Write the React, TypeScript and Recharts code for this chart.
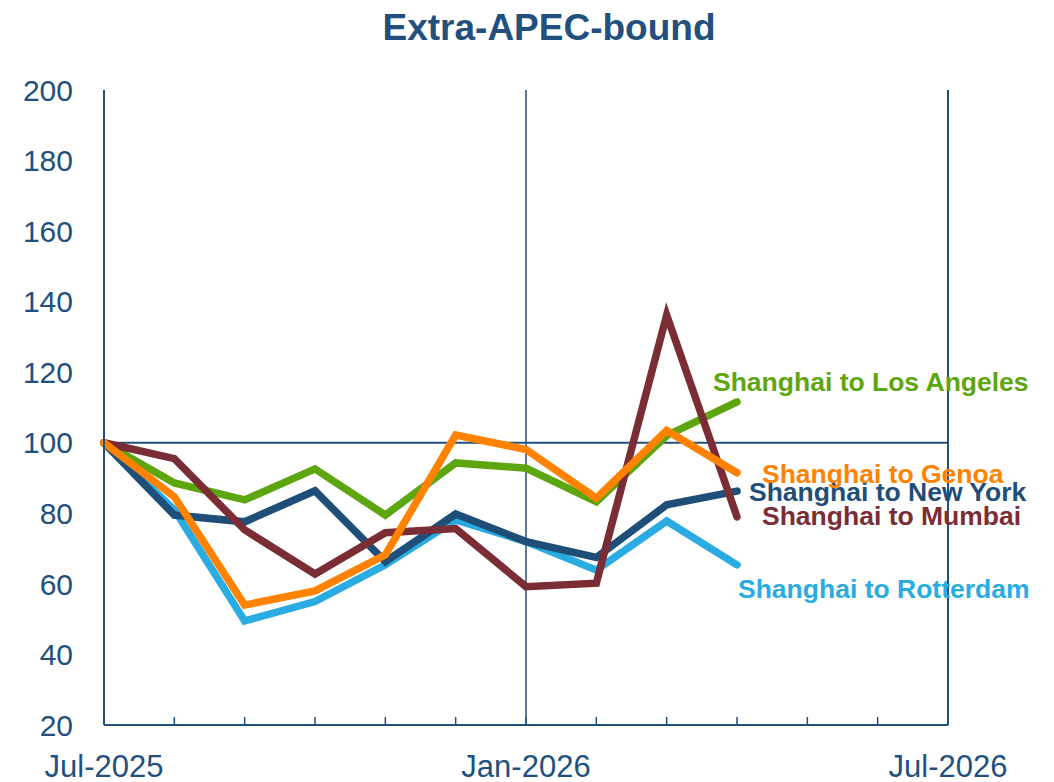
import { LineChart, Line, XAxis, YAxis, ReferenceLine } from "recharts";

const months = ["Jul-2025", "Aug-2025", "Sep-2025", "Oct-2025", "Nov-2025", "Dec-2025", "Jan-2026", "Feb-2026", "Mar-2026", "Apr-2026"];
const losAngeles = [100, 88.6, 83.8, 92.6, 79.5, 94.3, 92.8, 83.3, 102, 111.6];
const mumbai = [100, 95.5, 75.3, 62.8, 74.5, 75.7, 59.2, 60.2, 136.2, 79];
const newYork = [100, 79.5, 77.6, 86.4, 66.3, 79.8, 72, 67.5, 82.4, 86.3];
const genoa = [100, 84.7, 54, 58, 68.2, 102.2, 98.1, 84.3, 103.5, 91.5];
const rotterdam = [100, 81, 49.5, 55, 65.4, 78.1, 72, 63.9, 77.8, 65.4];

const xTicks = [0, 1, 2, 3, 4, 5, 6, 7, 8, 9, 10, 11, 12];
const xTickLabels: Record<number, string> = { 0: "Jul-2025", 6: "Jan-2026", 12: "Jul-2026" };
const yTicks = [20, 40, 60, 80, 100, 120, 140, 160, 180, 200];

const NAVY = "#22507e";
const FONT = "'Liberation Sans', Arial, Helvetica, sans-serif";

const data = months.map((m, i) => ({
  i,
  month: m,
  la: losAngeles[i],
  mumbai: mumbai[i],
  ny: newYork[i],
  genoa: genoa[i],
  rotterdam: rotterdam[i],
}));

const series = [
  { key: "rotterdam", name: "Shanghai to Rotterdam", color: "#2aace2", dx: 1, dy: 33 },
  { key: "la", name: "Shanghai to Los Angeles", color: "#5ea60f", dx: -24, dy: -11 },
  { key: "ny", name: "Shanghai to New York", color: "#1f4e79", dx: 12, dy: 10 },
  { key: "mumbai", name: "Shanghai to Mumbai", color: "#7b2d35", dx: 25, dy: 8 },
  { key: "genoa", name: "Shanghai to Genoa", color: "#ff8200", dx: 25, dy: 10 },
];

function XTick({ x, y, payload }: any) {
  const label = xTickLabels[payload.value];
  return (
    <g>
      <line x1={x} y1={y} x2={x} y2={y - 8} stroke={NAVY} strokeWidth={1.5} />
      {label && (
        <text x={x} y={y + 52} textAnchor="middle" fill={NAVY} fontSize={31} fontFamily={FONT}>
          {label}
        </text>
      )}
    </g>
  );
}

function endLabel(s: (typeof series)[number]) {
  return (props: any) => {
    if (props.index !== months.length - 1) return null;
    return (
      <text
        key={s.key}
        x={props.x + s.dx}
        y={props.y + s.dy}
        fill={s.color}
        fontSize={26.5}
        fontWeight="bold"
        fontFamily={FONT}
      >
        {s.name}
      </text>
    );
  };
}

export default function App() {
  return (
    <div style={{ position: "absolute", left: 0, top: 0, width: 1054, height: 782, background: "#fff" }}>
      <div
        style={{
          position: "absolute",
          left: 0,
          top: 9,
          width: 1098,
          textAlign: "center",
          fontFamily: FONT,
          fontWeight: "bold",
          fontSize: 37,
          lineHeight: "37px",
          color: NAVY,
        }}
      >
        Extra-APEC-bound
      </div>
      <LineChart width={1054} height={782} data={data} margin={{ top: 90, right: 106, bottom: 0, left: 14 }}>
        <XAxis
          dataKey="i"
          type="number"
          domain={[0, 12]}
          ticks={xTicks}
          interval={0}
          height={57}
          tickSize={0}
          tickMargin={0}
          tickLine={false}
          axisLine={{ stroke: NAVY, strokeWidth: 2 }}
          tick={<XTick />}
        />
        <YAxis
          type="number"
          domain={[20, 200]}
          ticks={yTicks}
          interval={0}
          width={90}
          tickSize={0}
          tickMargin={31}
          tickLine={false}
          axisLine={{ stroke: NAVY, strokeWidth: 2 }}
          tick={{ fill: NAVY, fontSize: 30, fontFamily: FONT }}
        />
        <ReferenceLine y={100} stroke={NAVY} strokeWidth={2} />
        <ReferenceLine x={6} stroke={NAVY} strokeWidth={1.5} />
        <ReferenceLine x={12} stroke={NAVY} strokeWidth={2} />
        {series.map((s) => (
          <Line
            key={s.key}
            dataKey={s.key}
            stroke={s.color}
            strokeWidth={7.5}
            strokeLinecap="round"
            dot={false}
            activeDot={false}
            isAnimationActive={false}
            label={endLabel(s)}
          />
        ))}
      </LineChart>
    </div>
  );
}
